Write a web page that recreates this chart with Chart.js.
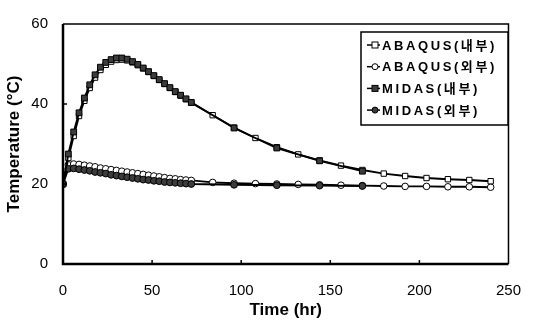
<!DOCTYPE html>
<html><head><meta charset="utf-8">
<script src="https://cdn.jsdelivr.net/npm/chart.js@4"></script>
<style>html,body{margin:0;padding:0;background:#fff}#wrap{width:539px;height:321px}</style>
</head><body><div id="wrap"><canvas id="c" width="539" height="321"></canvas></div>
<script>
const seriesNames = ['ABAQUS(내부)', 'ABAQUS(외부)', 'MIDAS(내부)', 'MIDAS(외부)'];
const abaqusTime = [0,3,6,9,12,15,18,21,24,27,30,33,36,39,42,45,48,51,54,57,60,63,66,69,72,84,96,108,120,132,144,156,168,180,192,204,216,228,240];
const midasTime = [0,3,6,9,12,15,18,21,24,27,30,33,36,39,42,45,48,51,54,57,60,63,66,69,72,96,120,144,168];
const abaqusInner = [20,26.5,32,37,40.8,44.0,46.6,48.5,49.8,50.6,51.0,51.1,50.9,50.4,49.7,48.9,48.0,47.0,46.0,45.0,44.0,43.0,42.1,41.2,40.3,37.2,34.1,31.5,29.2,27.4,25.9,24.6,23.5,22.6,22.0,21.5,21.2,21.0,20.7];
const abaqusOuter = [20,24.8,25.0,24.9,24.7,24.5,24.3,24.0,23.8,23.6,23.4,23.2,23.0,22.8,22.6,22.4,22.2,22.0,21.8,21.6,21.4,21.3,21.1,21.0,20.9,20.4,20.2,20.1,20.0,19.9,19.8,19.7,19.6,19.5,19.4,19.4,19.3,19.3,19.2];
const midasInner = [20,27.5,33,37.8,41.5,44.8,47.3,49.2,50.4,51.1,51.5,51.5,51.2,50.6,49.9,49.0,48.1,47.1,46.1,45.1,44.1,43.1,42.2,41.3,40.4,34.0,29.0,25.8,23.2];
const midasOuter = [20,23.8,23.9,23.7,23.5,23.3,23.0,22.8,22.6,22.3,22.1,21.9,21.7,21.5,21.3,21.1,21.0,20.8,20.7,20.5,20.4,20.3,20.2,20.1,20.0,19.8,19.7,19.6,19.5];
const xTicks = [0,50,100,150,200,250];
const yTicks = [0,20,40,60];

const pts = (xs, ys) => xs.map((x,i)=>({x, y: ys[i]}));
const FONT = "'Liberation Sans', Arial, 'Noto Sans CJK KR', sans-serif";
const NARROW = "'Liberation Sans Narrow', 'Liberation Sans', Arial, sans-serif";

const styles = [
  {pointStyle:'rect', pointRadius:3.8, backgroundColor:'#fff', order:2},
  {pointStyle:'circle', pointRadius:3.3, backgroundColor:'#fff', order:2},
  {pointStyle:'rect', pointRadius:4.1, backgroundColor:'#3c3c3c', order:1},
  {pointStyle:'circle', pointRadius:3.4, backgroundColor:'#3c3c3c', order:1}
];
const dataSets = [pts(abaqusTime, abaqusInner), pts(abaqusTime, abaqusOuter), pts(midasTime, midasInner), pts(midasTime, midasOuter)];

const datasets = seriesNames.map((n,i)=>({
  label: n, data: dataSets[i], showLine: true, borderWidth: 1.9,
  pointBorderWidth: 1, pointHoverRadius: styles[i].pointRadius,
  ...styles[i], pointBackgroundColor: styles[i].backgroundColor, pointBorderColor: '#000',
  borderColor: '#000'
}));

const frame = {
  id: 'frame',
  afterDatasetsDraw(chart) {
    const {ctx, chartArea: a, scales} = chart;
    ctx.save();
    ctx.strokeStyle = '#000';
    ctx.lineWidth = 1.5;
    ctx.beginPath();
    ctx.moveTo(a.left, a.top); ctx.lineTo(a.right, a.top); ctx.lineTo(a.right, a.bottom);
    ctx.stroke();
    ctx.lineWidth = 2.5;
    ctx.beginPath();
    ctx.moveTo(a.left, a.top); ctx.lineTo(a.left, a.bottom); ctx.lineTo(a.right, a.bottom);
    ctx.stroke();
    ctx.lineWidth = 1.5;
    yTicks.slice(1, -1).forEach(v => {
      const y = scales.y.getPixelForValue(v);
      ctx.beginPath(); ctx.moveTo(a.left, y); ctx.lineTo(a.left + 4, y); ctx.stroke();
    });
    xTicks.slice(1, -1).forEach(v => {
      const x = scales.x.getPixelForValue(v);
      ctx.beginPath(); ctx.moveTo(x, a.bottom); ctx.lineTo(x, a.bottom - 4); ctx.stroke();
    });
    // legend
    const L = 361, T = 32, W = 147, H = 93;
    ctx.fillStyle = '#fff';
    ctx.fillRect(L, T, W, H);
    ctx.lineWidth = 1.5;
    ctx.strokeRect(L, T, W, H);
    ctx.font = "bold 13px " + FONT;
    ctx.textBaseline = 'middle';
    ctx.textAlign = 'left';
    if ('letterSpacing' in ctx) ctx.letterSpacing = '2.6px';
    chart.data.datasets.forEach((ds, i) => {
      const y = T + 13 + i * 21.7;
      ctx.lineWidth = 1.5; ctx.strokeStyle = '#000';
      ctx.beginPath(); ctx.moveTo(L + 6, y); ctx.lineTo(L + 19, y); ctx.stroke();
      ctx.fillStyle = ds.pointBackgroundColor;
      ctx.lineWidth = 1;
      const cx = L + 14;
      if (ds.pointStyle === 'rect') {
        ctx.fillRect(cx - 3, y - 3, 6, 6); ctx.strokeRect(cx - 3, y - 3, 6, 6);
      } else {
        ctx.beginPath(); ctx.arc(cx, y, 3, 0, Math.PI * 2); ctx.fill(); ctx.stroke();
      }
      ctx.fillStyle = '#000';
      ctx.fillText(ds.label, L + 21, y + 1);
    });
    ctx.restore();
  }
};

new Chart(document.getElementById('c'), {
  type: 'scatter',
  data: { datasets },
  plugins: [frame],
  options: {
    responsive: false, animation: false, devicePixelRatio: 1,
    layout: { padding: { top: 15, right: 11, left: 0, bottom: 0 } },
    plugins: { legend: { display: false }, tooltip: { enabled: false } },
    scales: {
      x: {
        type: 'linear', min: 0, max: 250,
        afterBuildTicks: s => { s.ticks = xTicks.map(v => ({value: v})); },
        grid: { display: false, drawTicks: false }, border: { display: false },
        ticks: { color: '#000', font: { family: NARROW, size: 15 }, padding: 18, maxRotation: 0 },
        title: { display: true, text: 'Time (hr)', color: '#000', font: { family: FONT, size: 17, weight: 'bold' }, padding: { top: 2, bottom: 0 } },
        afterFit: s => { s.height = 57; }
      },
      y: {
        type: 'linear', min: 0, max: 60,
        afterBuildTicks: s => { s.ticks = yTicks.map(v => ({value: v})); },
        grid: { display: false, drawTicks: false }, border: { display: false },
        ticks: { color: '#000', font: { family: NARROW, size: 15 }, padding: 15 },
        title: { display: true, text: 'Temperature (°C)', color: '#000', font: { family: FONT, size: 17, weight: 'bold' }, padding: { top: 4, bottom: 0 } },
        afterFit: s => { s.width = 63; }
      }
    }
  }
});
</script>
</body></html>
